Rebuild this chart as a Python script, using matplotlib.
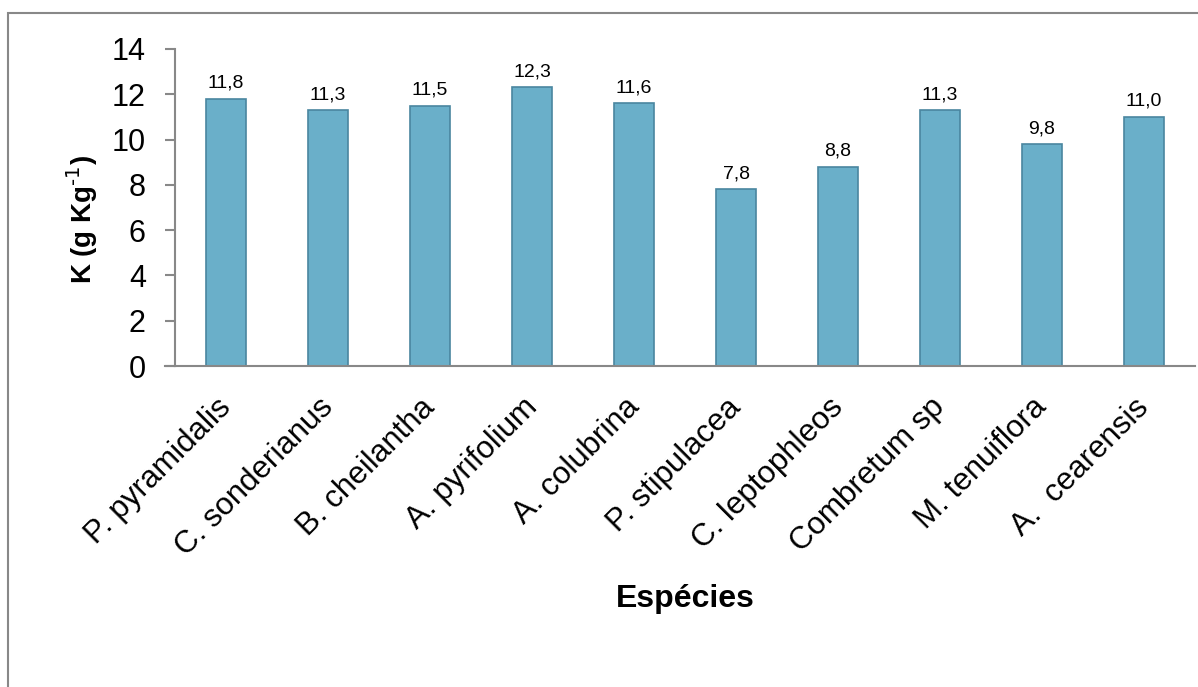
import matplotlib
matplotlib.use("Agg")
import matplotlib.pyplot as plt
import matplotlib.transforms as mtransforms
from matplotlib.patches import Rectangle

species = ["P. pyramidalis", "C. sonderianus", "B. cheilantha", "A. pyrifolium",
           "A. colubrina", "P. stipulacea", "C. leptophleos", "Combretum sp",
           "M. tenuiflora", "A.  cearensis"]
k_values = [11.8, 11.3, 11.5, 12.3, 11.6, 7.8, 8.8, 11.3, 9.8, 11.0]
y_ticks = [0, 2, 4, 6, 8, 10, 12, 14]

plt.rcParams['font.family'] = ['Liberation Sans', 'DejaVu Sans']

W, H = 1198, 687
fig = plt.figure(figsize=(W / 100, H / 100), dpi=100)
ax = fig.add_axes([175 / W, 1 - 366 / H, (1195 - 175) / W, (366 - 49) / H])

x = list(range(len(species)))
ax.bar(x, k_values, width=0.4, color="#6AAFC9", edgecolor="#4A86A0", linewidth=1.2)
for xi, v in zip(x, k_values):
    ax.annotate(f"{v:.1f}".replace(".", ","), (xi, v), xytext=(0, 5),
                textcoords="offset points", ha="center", va="bottom", fontsize=14)

ax.set_xlim(-0.5, len(species) - 0.5)
ax.set_ylim(0, 14)
ax.set_yticks(y_ticks)
ax.set_yticklabels([str(t) for t in y_ticks], fontsize=22)
ax.set_xticks(x)
ax.set_xticklabels(species, rotation=45, ha="right", rotation_mode="anchor", fontsize=22.5)
ax.tick_params(axis="x", length=0, pad=19)
ax.tick_params(axis="y", length=7, width=1.5, color="#888888", pad=14)

offset = mtransforms.ScaledTranslation(-10 / 100, 0, fig.dpi_scale_trans)
for lbl in ax.get_xticklabels():
    lbl.set_transform(lbl.get_transform() + offset)

for s in ["top", "right"]:
    ax.spines[s].set_visible(False)
for s in ["left", "bottom"]:
    ax.spines[s].set_color("#888888")
    ax.spines[s].set_linewidth(1.5)
ax.plot([-0.5 - 10 / 102, -0.5], [0, 0], color="#888888", lw=1.5, clip_on=False)

ax.set_ylabel("K (g Kg$^{\\text{-1}}$)", fontsize=20, fontweight="bold")
ax.yaxis.set_label_coords((100 - 175) / 1020, (366 - 220) / 317)
fig.text(685 / W, 1 - 599 / H, "Espécies", fontsize=23, fontweight="bold", ha="center", va="center")

fig.patches.append(Rectangle((8 / W, -0.1), 1.2, 1.1 - 13 / H, transform=fig.transFigure,
                             fill=False, edgecolor="#888888", linewidth=1.5))

fig.savefig("out.png", dpi=100)
